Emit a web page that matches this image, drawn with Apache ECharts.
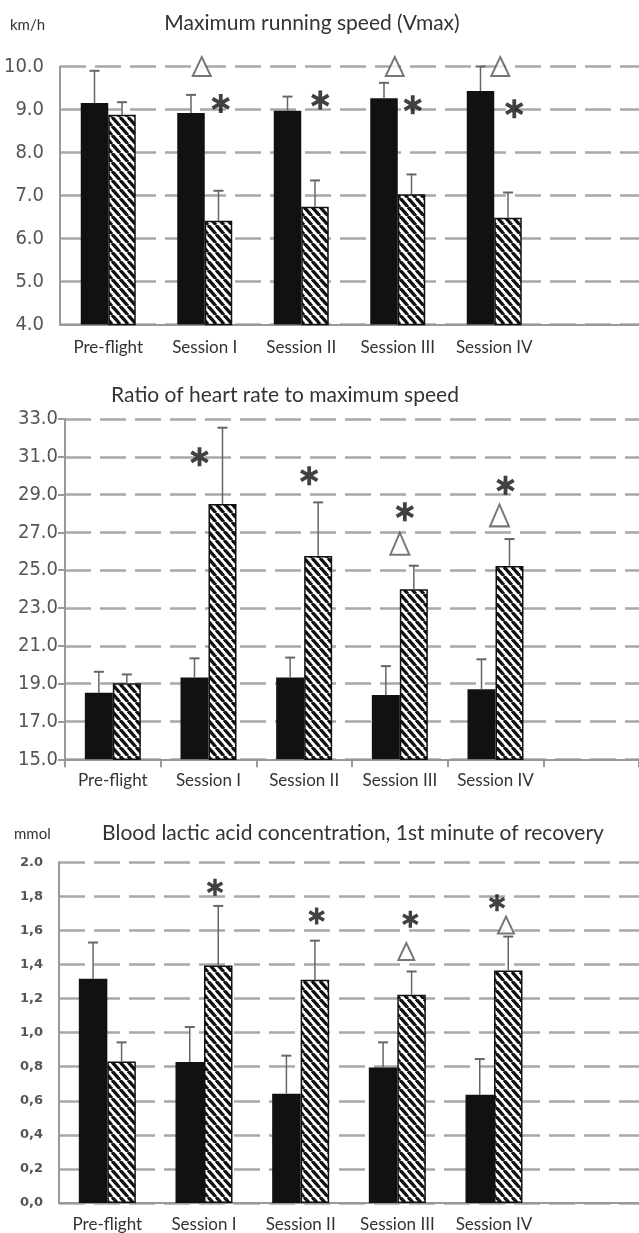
<!DOCTYPE html>
<html><head><meta charset="utf-8">
<script src="https://cdn.jsdelivr.net/npm/echarts@6/dist/echarts.min.js"></script>
<style>html,body{margin:0;padding:0;background:#fff}#c{width:639px;height:1233px}</style>
</head><body><div id="c"></div>
<script>
// ---------- DATA ----------
const categories = ['Pre-flight', 'Session I', 'Session II', 'Session III', 'Session IV', ''];

// Chart 1: Maximum running speed (km/h)
const vmaxBlack = [9.15, 8.92, 8.97, 9.26, 9.43];
const vmaxBlackErr = [9.90, 9.34, 9.30, 9.62, 10.00];
const vmaxHatched = [8.88, 6.41, 6.74, 7.03, 6.48];
const vmaxHatchedErr = [9.17, 7.11, 7.35, 7.49, 7.07];
const vmaxTicks = ['4.0', '5.0', '6.0', '7.0', '8.0', '9.0', '10.0'];
const vmaxStars = [[1, 9.14], [2, 9.22], [3, 9.11], [4, 9.02]];
const vmaxTriangles = [[1, 10.0], [3, 10.0], [4, 10.0]];

// Chart 2: Ratio of heart rate to maximum speed
const hrBlack = [18.52, 19.33, 19.33, 18.40, 18.71];
const hrBlackErr = [19.63, 20.34, 20.38, 19.93, 20.29];
const hrHatched = [19.02, 28.50, 25.75, 23.99, 25.22];
const hrHatchedErr = [19.49, 32.54, 28.59, 25.24, 26.65];
const hrTicks = ['15.0', '17.0', '19.0', '21.0', '23.0', '25.0', '27.0', '29.0', '31.0', '33.0'];
const hrStars = [[1, 31.0], [2, 30.0], [3, 28.1], [4, 29.5]];
const hrTriangles = [[3, 26.4], [4, 27.9]];

// Chart 3: Blood lactic acid concentration (mmol)
const laBlack = [1.316, 0.828, 0.642, 0.796, 0.636];
const laBlackErr = [1.529, 1.033, 0.865, 0.943, 0.845];
const laHatched = [0.831, 1.394, 1.310, 1.222, 1.365];
const laHatchedErr = [0.943, 1.744, 1.540, 1.359, 1.564];
const laTicks = ['0,0', '0,2', '0,4', '0,6', '0,8', '1,0', '1,2', '1,4', '1,6', '1,8', '2.0'];
const laStars = [[1, 1.853], [2, 1.685], [3, 1.666], [4, 1.763]];
const laTriangles = [[3, 1.476], [4, 1.632]];

// ---------- STYLE (pixel offsets of annotation glyphs) ----------
const vmaxStarDx = [16, 19, 15, 20], vmaxTriDx = [-3, -3, 6];
const hrStarDx = [-9, 5, 5, 10], hrTriDx = [0, 4];
const laStarDx = [11, 16, 13, 3], laTriDx = [9, 12];

function hatchCanvas() {
  const w = 8, h = 9;
  const cv = document.createElement('canvas');
  cv.width = w; cv.height = h;
  const g = cv.getContext('2d');
  g.fillStyle = '#fff'; g.fillRect(0, 0, w, h);
  g.strokeStyle = '#111'; g.lineWidth = 3.3;
  for (const dx of [-w, 0, w]) {
    g.beginPath(); g.moveTo(dx, 0); g.lineTo(dx + w, h); g.stroke();
  }
  return cv;
}
const hatch = { image: hatchCanvas(), repeat: 'repeat' };

function asteriskPath() {
  const r = 10, hw = 2.0;
  let d = '';
  for (const ang of [90, 30, -30]) {
    const a = ang * Math.PI / 180, c = Math.cos(a), s = Math.sin(a);
    const px = -s * hw, py = c * hw;
    const pts = [[-r * c + px, -r * s + py], [r * c + px, r * s + py], [r * c - px, r * s - py], [-r * c - px, -r * s - py]];
    d += 'M' + pts.map(p => p[0].toFixed(2) + ' ' + p[1].toFixed(2)).join(' L') + ' Z ';
  }
  return 'path://' + d;
}
const ASTER = asteriskPath();

// pick an installed condensed face for the y labels, if any
function pickFont(cands) {
  const c = document.createElement('canvas').getContext('2d');
  c.font = '40px monospace';
  const base = c.measureText('10.0 31.0').width;
  for (const f of cands) {
    c.font = "40px '" + f + "', monospace";
    if (Math.abs(c.measureText('10.0 31.0').width - base) > 0.5) return "'" + f + "', sans-serif";
  }
  return 'sans-serif';
}
const NARROW = pickFont(['Liberation Sans Narrow', 'DejaVu Sans Condensed', 'Liberation Sans']);

const GRID_COLOR = '#a8a8a8';
const AXIS_COLOR = '#999';

const panels = [
  { left: 60, top: 66.5, width: 6 * 97.3, height: 258, bw: 27.5, min: 4, max: 10, interval: 1,
    ticks: vmaxTicks, black: vmaxBlack, blackErr: vmaxBlackErr, hat: vmaxHatched, hatErr: vmaxHatchedErr,
    stars: vmaxStars, starDx: vmaxStarDx, tris: vmaxTriangles, triDx: vmaxTriDx,
    starSize: 19, triSize: [18, 19],
    yFont: { fontFamily: NARROW, fontSize: 20, color: '#555' },
    yMargin: 16, yTick: false, xTick: false, xMargin: 15 },
  { left: 65, top: 419, width: 6 * 102.9, height: 340.3, bw: 28, min: 15, max: 33, interval: 2,
    ticks: hrTicks, black: hrBlack, blackErr: hrBlackErr, hat: hrHatched, hatErr: hrHatchedErr,
    stars: hrStars, starDx: hrStarDx, tris: hrTriangles, triDx: hrTriDx,
    starSize: 19, triSize: [19, 22],
    yFont: { fontFamily: NARROW, fontSize: 20, color: '#555' },
    yMargin: 7, yTick: true, xTick: true, xMargin: 13 },
  { left: 59, top: 862.3, width: 6 * 100.8, height: 341.2, bw: 28.5, min: 0, max: 2, interval: 0.2,
    ticks: laTicks, black: laBlack, blackErr: laBlackErr, hat: laHatched, hatErr: laHatchedErr,
    stars: laStars, starDx: laStarDx, tris: laTriangles, triDx: laTriDx,
    starSize: 17, triSize: [16, 17],
    yFont: { fontFamily: "'DejaVu Sans',sans-serif", fontSize: 13, fontWeight: 'bold', color: '#555' },
    yMargin: 16, yTick: false, xTick: false, xMargin: 13 }
];

const grid = [], xAxis = [], yAxis = [], series = [];

function errSeries(gi, vals, errs, side, bw) {
  return {
    type: 'custom', xAxisIndex: gi, yAxisIndex: gi, z: 3, silent: true,
    data: vals.map((v, i) => [i, v, errs[i]]),
    encode: { x: 0, y: [1, 2] },
    renderItem(params, api) {
      const b = api.coord([api.value(0), api.value(1)]);
      const t = api.coord([api.value(0), api.value(2)]);
      const x = b[0] + side * bw / 2;
      return {
        type: 'group', children: [
          { type: 'line', shape: { x1: x, y1: b[1], x2: x, y2: t[1] }, style: { stroke: '#666', lineWidth: 1.5 } },
          { type: 'line', shape: { x1: x - 5, y1: t[1], x2: x + 5, y2: t[1] }, style: { stroke: '#666', lineWidth: 2 } }
        ]
      };
    }
  };
}

panels.forEach((p, gi) => {
  grid.push({ left: p.left, top: p.top, width: p.width, height: p.height, containLabel: false });
  xAxis.push({
    type: 'category', gridIndex: gi, data: categories,
    axisLine: { show: true, lineStyle: { color: AXIS_COLOR, width: 2 } },
    axisTick: { show: p.xTick, length: 8, lineStyle: { color: AXIS_COLOR, width: 2 } },
    axisLabel: { margin: p.xMargin, fontFamily: 'Lato, sans-serif', fontSize: 17, color: '#333', interval: 0 },
    splitLine: { show: false }
  });
  yAxis.push({
    type: 'value', gridIndex: gi, min: p.min, max: p.max, interval: p.interval,
    axisLine: { show: true, lineStyle: { color: AXIS_COLOR, width: 2 } },
    axisTick: { show: p.yTick, length: 7, lineStyle: { color: AXIS_COLOR, width: 2 } },
    axisLabel: Object.assign({ margin: p.yMargin,
      formatter: (v) => p.ticks[Math.round((v - p.min) / p.interval)] }, p.yFont),
    splitLine: { show: true, lineStyle: { color: GRID_COLOR, width: 2.6, type: [26, 9] } }
  });
  series.push({
    type: 'bar', xAxisIndex: gi, yAxisIndex: gi, data: p.black, barWidth: p.bw, barGap: '0%',
    itemStyle: { color: '#111' }, z: 2, silent: true
  });
  series.push({
    type: 'bar', xAxisIndex: gi, yAxisIndex: gi, data: p.hat, barWidth: p.bw, barGap: '0%',
    itemStyle: { color: hatch, borderColor: '#111', borderWidth: 1.5 }, z: 2, silent: true
  });
  series.push(errSeries(gi, p.black, p.blackErr, -1, p.bw));
  series.push(errSeries(gi, p.hat, p.hatErr, 1, p.bw));
  series.push({
    type: 'scatter', xAxisIndex: gi, yAxisIndex: gi, z: 5, silent: true,
    symbol: ASTER, symbolSize: p.starSize, symbolKeepAspect: true,
    itemStyle: { color: '#111' },
    data: p.stars.map((s, i) => ({ value: s, symbolOffset: [p.starDx[i], 0] }))
  });
  series.push({
    type: 'scatter', xAxisIndex: gi, yAxisIndex: gi, z: 5, silent: true,
    symbol: 'triangle', symbolSize: p.triSize,
    itemStyle: { color: '#fff', borderColor: '#555', borderWidth: 2 },
    data: p.tris.map((s, i) => ({ value: s, symbolOffset: [p.triDx[i], 0] }))
  });
});

const titleFont = 'Lato, sans-serif';
const graphic = [
  { type: 'text', x: 312, y: 23, style: { text: 'Maximum running speed (Vmax)', fontFamily: titleFont, fontSize: 21, fill: '#333', align: 'center', verticalAlign: 'middle' } },
  { type: 'text', x: 10, y: 25, style: { text: 'km/h', fontFamily: titleFont, fontSize: 15, fill: '#333', align: 'left', verticalAlign: 'middle' } },
  { type: 'text', x: 285, y: 395, style: { text: 'Ratio of heart rate to maximum speed', fontFamily: titleFont, fontSize: 21, fill: '#333', align: 'center', verticalAlign: 'middle' } },
  { type: 'text', x: 14, y: 834, style: { text: 'mmol', fontFamily: titleFont, fontSize: 15, fill: '#333', align: 'left', verticalAlign: 'middle' } },
  { type: 'text', x: 353, y: 833, style: { text: 'Blood lactic acid concentration, 1st minute of recovery', fontFamily: titleFont, fontSize: 21, fill: '#333', align: 'center', verticalAlign: 'middle' } }
];

const chart = echarts.init(document.getElementById('c'), null, { renderer: 'canvas', width: 639, height: 1233 });
chart.setOption({
  backgroundColor: '#fff',
  animation: false,
  grid, xAxis, yAxis, series, graphic
});
</script>
</body></html>
